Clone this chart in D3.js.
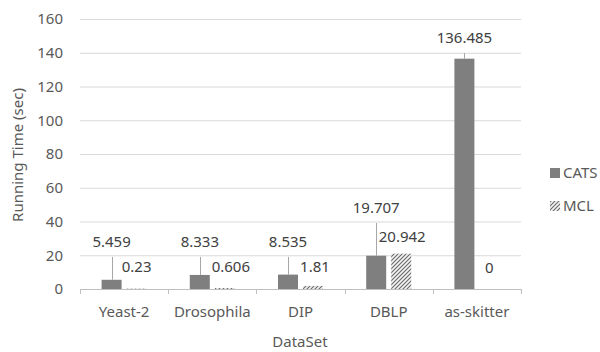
<!DOCTYPE html>
<html><head><meta charset="utf-8">
<script src="https://cdn.jsdelivr.net/npm/d3@7"></script>
<style>body{margin:0;background:#fff}svg{display:block}text{font-family:"Noto Sans",sans-serif}</style>
</head><body>
<svg id="c" width="600" height="352"></svg>
<script>
const categories = ["Yeast-2","Drosophila","DIP","DBLP","as-skitter"];
const series = ["CATS","MCL"];
const catsValues = [5.459, 8.333, 8.535, 19.707, 136.485];
const mclValues = [0.23, 0.606, 1.81, 20.942, 0];
const catsLabels = ["5.459","8.333","8.535","19.707","136.485"];
const mclLabels = ["0.23","0.606","1.81","20.942","0"];
const yTicks = [0,20,40,60,80,100,120,140,160];

(function(){
const svg = d3.select("#c");
const pLeft = 80, pRight = 521, pTop = 19, pBottom = 289;
const y = d3.scaleLinear().domain([0,160]).range([pBottom, pTop]);
const x0 = d3.scaleBand().domain(categories).range([pLeft, pRight]).paddingInner(0).paddingOuter(0);
const groupW = 45;
const x1 = d3.scaleBand().domain(series).range([0, groupW]).paddingInner(0.2);
const off = (x0.bandwidth() - groupW) / 2;

const defs = svg.append("defs");
const pat = defs.append("pattern").attr("id","hatch").attr("patternUnits","userSpaceOnUse")
  .attr("width",4).attr("height",4);
pat.append("rect").attr("width",4).attr("height",4).attr("fill","#f2f2f2");
pat.append("path").attr("d","M-1,1 l2,-2 M0,4 l4,-4 M3,5 l2,-2").attr("stroke","#6a6a6a").attr("stroke-width",1.1);

svg.append("g").selectAll("line").data(yTicks.filter(d=>d>0)).join("line")
  .attr("x1", pLeft).attr("x2", pRight).attr("y1", d=>y(d)+0.5).attr("y2", d=>y(d)+0.5)
  .attr("stroke","#d9d9d9").attr("stroke-width",1);

svg.append("g").selectAll("text").data(yTicks).join("text")
  .attr("x", 63).attr("y", d=>y(d)).attr("dy","0.35em").attr("text-anchor","end")
  .attr("font-size",15).attr("fill","#595959").text(d=>d);

svg.append("line").attr("x1",pLeft).attr("x2",pRight).attr("y1",pBottom+0.5).attr("y2",pBottom+0.5).attr("stroke","#bfbfbf");
const bounds = categories.map(c=>x0(c)).concat([pRight]);
svg.append("g").selectAll("line").data(bounds).join("line")
  .attr("x1",d=>Math.round(d)+0.5).attr("x2",d=>Math.round(d)+0.5).attr("y1",pBottom).attr("y2",pBottom+5).attr("stroke","#bfbfbf");
svg.append("g").selectAll("text").data(categories).join("text")
  .attr("x", d=>x0(d)+x0.bandwidth()/2).attr("y", 312).attr("dy","0.35em").attr("text-anchor","middle")
  .attr("font-size",15).attr("fill","#595959").text(d=>d);

const catsX = i => x0(categories[i]) + off + x1("CATS");
const mclX = i => x0(categories[i]) + off + x1("MCL");
svg.append("g").selectAll("rect").data(catsValues).join("rect")
  .attr("x",(d,i)=>catsX(i)).attr("width",x1.bandwidth())
  .attr("y",d=>y(d)).attr("height",d=>pBottom-y(d)).attr("fill","#7f7f7f");
svg.append("g").selectAll("rect").data(mclValues).join("rect")
  .attr("x",(d,i)=>mclX(i)).attr("width",x1.bandwidth())
  .attr("y",d=>y(d)).attr("height",d=>pBottom-y(d)).attr("fill","url(#hatch)");

const catsLabelAt = [27.9, 27.9, 27.9, 48, 148.7];
const mclLabelAt = [13, 13, 13, 30.8, 12.4];
const mclLabelShift = [0, 6, 2, 1, 0];
const lab = svg.append("g");
catsValues.forEach((v,i)=>{
  const cx = catsX(i) + x1.bandwidth()/2;
  const ly = y(catsLabelAt[i]);
  lab.append("text").attr("x",cx).attr("y",ly).attr("dy","0.35em").attr("text-anchor","middle")
    .attr("font-size",15).attr("fill","#404040").text(catsLabels[i]);
  if (y(v) - (ly+9) > 4) {
    lab.append("line").attr("x1",Math.round(cx)+0.5).attr("x2",Math.round(cx)+0.5)
      .attr("y1", ly+15).attr("y2", y(v)).attr("stroke","#a6a6a6");
  }
});
mclValues.forEach((v,i)=>{
  const cx = mclX(i) + x1.bandwidth()/2 + mclLabelShift[i];
  lab.append("text").attr("x",cx).attr("y",y(mclLabelAt[i])).attr("dy","0.35em").attr("text-anchor","middle")
    .attr("font-size",15).attr("fill","#404040").text(mclLabels[i]);
});

svg.append("text").attr("x",300).attr("y",342).attr("dy","0.35em").attr("text-anchor","middle")
  .attr("font-size",15).attr("fill","#595959").text("DataSet");
svg.append("text").attr("transform","translate(18,155) rotate(-90)").attr("dy","0.35em").attr("text-anchor","middle")
  .attr("font-size",15).attr("fill","#595959").text("Running Time (sec)");

const leg = svg.append("g");
series.forEach((s,i)=>{
  const ly = 173 + i*33;
  leg.append("rect").attr("x",550).attr("y",ly-5).attr("width",10).attr("height",10)
    .attr("fill", i===0 ? "#7f7f7f" : "url(#hatch)");
  leg.append("text").attr("x",563).attr("y",ly).attr("dy","0.35em").attr("font-size",15)
    .attr("fill","#595959").text(s);
});
})();
</script>
</body></html>
